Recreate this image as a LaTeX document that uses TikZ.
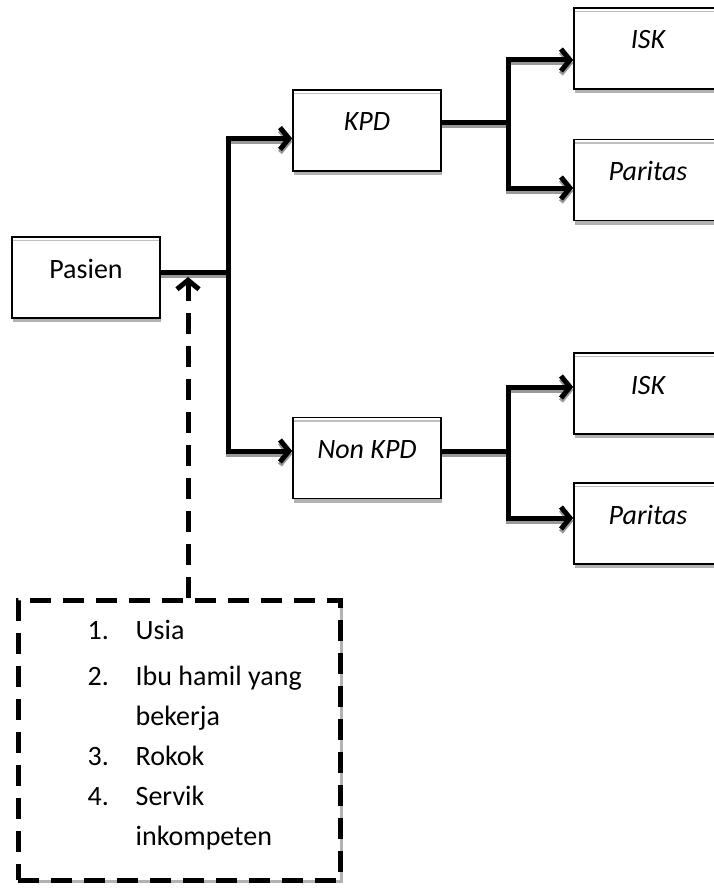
\documentclass[tikz,border=0pt]{standalone}
\usepackage{fontspec}
\setmainfont{Carlito}
\usetikzlibrary{arrows.meta,calc,shadows}
\begin{document}
\begin{tikzpicture}[x=1pt,y=-1pt,
  box/.style={draw=black, line width=1.6pt, fill=white, minimum width=148pt,
    inner xsep=0pt, inner ysep=0pt, text height=41pt, text depth=40pt,
    font=\fontsize{28}{34}\selectfont,
    drop shadow={shadow xshift=1pt, shadow yshift=-4pt, fill=black!30, opacity=1},
    path picture={\draw[black!25, line width=1.5pt]
      ([yshift=-3.5pt]path picture bounding box.north west) --
      ([yshift=-3.5pt]path picture bounding box.north east);}},
  ibox/.style={box, font=\fontsize{28}{34}\selectfont\itshape},
  line/.style={line width=5pt, preaction={draw=black!40, line width=5pt, transform canvas={yshift=-3pt}}},
  arr/.style={line, -{Straight Barb[length=9pt,width=22pt]}},
  dashbox/.style={draw=black, line width=5pt, dash pattern=on 21pt off 12pt, fill=white,
    minimum width=322pt, minimum height=280pt, inner sep=0pt,
    drop shadow={shadow xshift=3pt, shadow yshift=-3pt, fill=black!30, opacity=1}},
  dashline/.style={line width=5pt, dash pattern=on 21pt off 12pt,
    -{Straight Barb[length=9pt,width=22pt]}},
  listtext/.style={inner sep=0pt, font=\fontsize{28}{40}\selectfont}
]
\useasboundingbox (0,0) rectangle (714,888);
\clip (0,0) rectangle (714,888);

% boxes
\node[box]  (Pasien) at (86,277.5) {Pasien};
\node[ibox] (KPD)    at (367,130.5) {KPD};
\node[ibox] (NonKPD) at (367,458) {Non KPD};
\node[ibox] (ISKa)   at (648,48.5) {ISK};
\node[ibox] (PARa)   at (648,180) {Paritas};
\node[ibox] (ISKb)   at (648,393.5) {ISK};
\node[ibox] (PARb)   at (648,523.5) {Paritas};

% factors box
\node[dashbox] (factors) at (179,740) {};
\node[listtext, anchor=north west] (list) at ([xshift=72pt,yshift=-14pt]factors.north west)
 {\begin{tabular}{@{}p{48pt}@{}l@{}}
  1. & Usia\\[6pt]
  2. & Ibu hamil yang\\
     & bekerja\\
  3. & Rokok\\
  4. & Servik\\
     & inkompeten
  \end{tabular}};

% junctions
\coordinate (jP) at (228,272);
\coordinate (jK) at (508,123);
\coordinate (jN) at (508,451);
\coordinate (tipD) at (188,277);

% connectors
\draw[line] (Pasien.east |- jP) -- (jP);
\draw[arr] (jP) |- ([yshift=-8pt]KPD.west);
\draw[arr] (jP) |- ([yshift=7pt]NonKPD.west);

\draw[line] (KPD.east |- jK) -- (jK);
\draw[arr] (jK) |- ([yshift=-11.5pt]ISKa.west);
\draw[arr] (jK) |- ([yshift=-8pt]PARa.west);

\draw[line] (NonKPD.east |- jN) -- (jN);
\draw[arr] (jN) |- ([yshift=6.5pt]ISKb.west);
\draw[arr] (jN) |- ([yshift=5.5pt]PARb.west);

\draw[dashline] (factors.north -| tipD) -- (tipD);
\end{tikzpicture}
\end{document}
